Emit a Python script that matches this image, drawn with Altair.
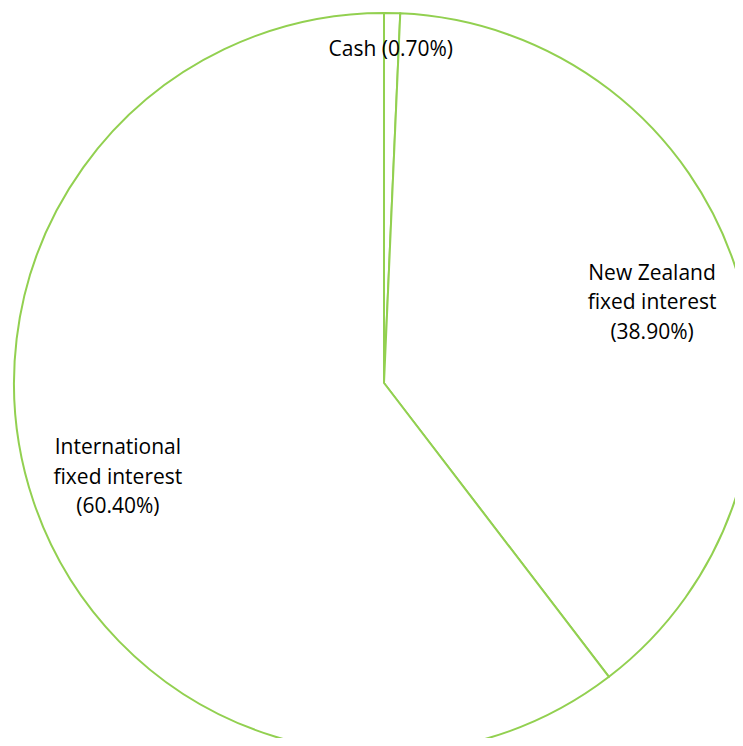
import altair as alt
import pandas as pd

categories = ["Cash", "New Zealand fixed interest", "International fixed interest"]
label_lines = [
    ["Cash (0.70%)"],
    ["New Zealand", "fixed interest", "(38.90%)"],
    ["International", "fixed interest", "(60.40%)"],
]
values = [0.70, 38.90, 60.40]

df = pd.DataFrame({
    "category": categories,
    "value": values,
    "label": ["\n".join(l) for l in label_lines],
    "order": list(range(len(categories))),
})

GREEN = "#92D050"
CX, CY, R = 376, 375, 370
theta_scale = alt.Scale(domain=[0, 100])

pie = alt.Chart(df).mark_arc(
    fill="white", stroke=GREEN, strokeWidth=2, radius=R, clip=True
).encode(
    theta=alt.Theta("value:Q", stack=True, scale=theta_scale),
    order=alt.Order("order:Q"),
    x=alt.value(CX), y=alt.value(CY),
)

labels = alt.Chart(df).transform_window(
    cum="sum(value)", sort=[alt.SortField("order")]
).transform_calculate(
    mid="datum.cum - datum.value / 2",
    r="datum.category == 'Cash' ? 308 : 281",
).mark_text(
    font="Open Sans", fontSize=21, color="#000000",
    lineBreak="\n", lineHeight=29.5, align="center", baseline="middle", dy=-25,
).encode(
    theta=alt.Theta("mid:Q", stack=None, scale=theta_scale),
    radius=alt.Radius("r:Q", scale=None),
    x=alt.value(CX), y=alt.value(CY),
    text="label:N",
)

chart = alt.layer(pie, labels).properties(
    width=727, height=730,
    autosize=alt.AutoSizeParams(type="none"),
    padding=0,
).configure_view(stroke=None)

chart.save("out.html", embed_options={"renderer": "svg", "actions": False})
